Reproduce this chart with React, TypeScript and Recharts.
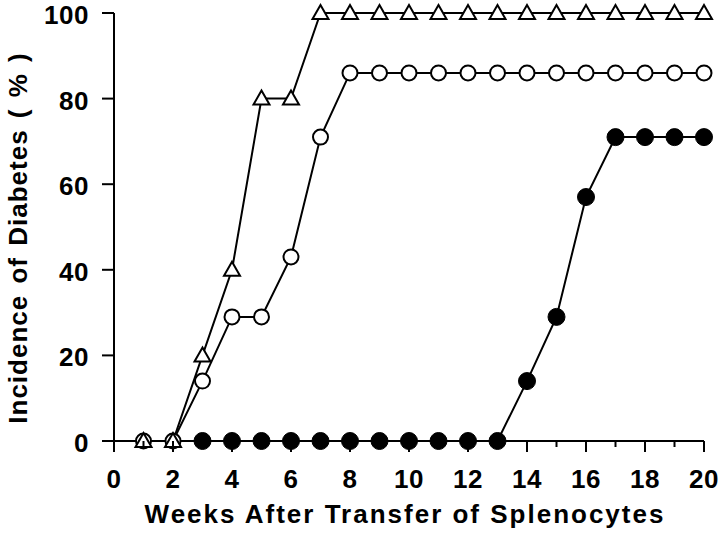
import React from "react";
import { LineChart, Line, XAxis, YAxis } from "recharts";

const weeks = [1, 2, 3, 4, 5, 6, 7, 8, 9, 10, 11, 12, 13, 14, 15, 16, 17, 18, 19, 20];
const triangleSeries = [0, 0, 20, 40, 80, 80, 100, 100, 100, 100, 100, 100, 100, 100, 100, 100, 100, 100, 100, 100];
const openCircleSeries = [0, 0, 14, 29, 29, 43, 71, 86, 86, 86, 86, 86, 86, 86, 86, 86, 86, 86, 86, 86];
const filledCircleSeries = [null, null, 0, 0, 0, 0, 0, 0, 0, 0, 0, 0, 0, 14, 29, 57, 71, 71, 71, 71];
const xTicks = [0, 1, 2, 3, 4, 5, 6, 7, 8, 9, 10, 11, 12, 13, 14, 15, 16, 17, 18, 19, 20];
const yTicks = [0, 20, 40, 60, 80, 100];

const data = weeks.map((w, i) => ({
  week: w,
  tri: triangleSeries[i],
  open: openCircleSeries[i],
  filled: filledCircleSeries[i],
}));

const FONT = "'Liberation Sans', Arial, sans-serif";

const XTick = (props: any) => {
  const { x, y, payload } = props;
  const v = payload.value;
  const major = v % 2 === 0;
  return (
    <g>
      <line x1={x} y1={y} x2={x} y2={y + (major ? 11 : 6)} stroke="#000" strokeWidth={2} />
      {major && (
        <text x={x} y={y + 47} textAnchor="middle" fontFamily={FONT} fontWeight="bold" fontSize={26} fill="#000" letterSpacing={0.5}>
          {v}
        </text>
      )}
    </g>
  );
};

const YTick = (props: any) => {
  const { x, y, payload } = props;
  return (
    <g>
      <line x1={x} y1={y} x2={x - 12} y2={y} stroke="#000" strokeWidth={2} />
      <text x={x - 25} y={y + 11} textAnchor="end" fontFamily={FONT} fontWeight="bold" fontSize={26} fill="#000" letterSpacing={0.5}>
        {payload.value}
      </text>
    </g>
  );
};

const TriangleDot = (props: any) => {
  const { cx, cy } = props;
  if (cx == null || cy == null) return <g />;
  return (
    <polygon
      points={`${cx},${cy - 8} ${cx - 8},${cy + 6} ${cx + 8},${cy + 6}`}
      fill="#fff"
      stroke="#000"
      strokeWidth={2}
    />
  );
};

const OpenDot = (props: any) => {
  const { cx, cy } = props;
  if (cx == null || cy == null) return <g />;
  return <circle cx={cx} cy={cy} r={7.5} fill="#fff" stroke="#000" strokeWidth={2} />;
};

const FilledDot = (props: any) => {
  const { cx, cy } = props;
  if (cx == null || cy == null) return <g />;
  return <circle cx={cx} cy={cy} r={8.5} fill="#000" stroke="#000" strokeWidth={1} />;
};

export default function App() {
  return (
    <div style={{ position: "absolute", left: 0, top: 0, background: "#fff" }}>
      <LineChart width={720} height={535} data={data} margin={{ top: 13, right: 16, bottom: 34, left: 34 }}>
        <XAxis
          dataKey="week"
          type="number"
          domain={[0, 20]}
          ticks={xTicks}
          interval={0}
          tick={<XTick />}
          tickLine={false}
          tickSize={0}
          tickMargin={0}
          height={60}
          axisLine={{ stroke: "#000", strokeWidth: 2 }}
        />
        <YAxis
          type="number"
          domain={[0, 100]}
          ticks={yTicks}
          interval={0}
          tick={<YTick />}
          tickLine={false}
          tickSize={0}
          tickMargin={0}
          width={80}
          axisLine={{ stroke: "#000", strokeWidth: 2 }}
        />
        <Line dataKey="open" stroke="#000" strokeWidth={2} dot={<OpenDot />} isAnimationActive={false} connectNulls={false} />
        <Line dataKey="filled" stroke="#000" strokeWidth={2} dot={<FilledDot />} isAnimationActive={false} connectNulls={false} />
        <Line dataKey="tri" stroke="#000" strokeWidth={2} dot={<TriangleDot />} isAnimationActive={false} />
        <text x={405} y={523} textAnchor="middle" fontFamily={FONT} fontWeight="bold" fontSize={26} fill="#000" letterSpacing={2}>
          Weeks After Transfer of Splenocytes
        </text>
        <text
          x={27}
          y={238}
          textAnchor="middle"
          fontFamily={FONT}
          fontWeight="bold"
          fontSize={26}
          fill="#000"
          letterSpacing={1}
          wordSpacing={3}
          transform="rotate(-90 27 238)"
        >
          Incidence of Diabetes ( % )
        </text>
      </LineChart>
    </div>
  );
}
